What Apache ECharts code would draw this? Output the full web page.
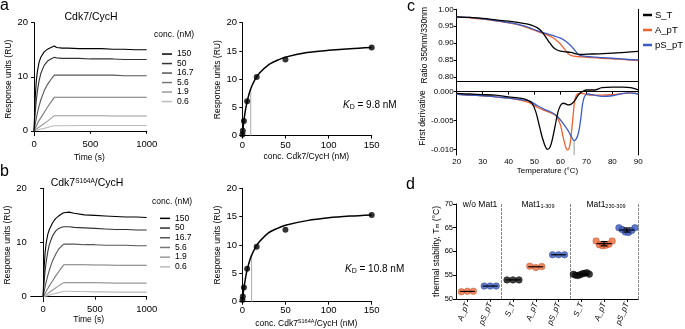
<!DOCTYPE html>
<html>
<head>
<meta charset="utf-8">
<script src="https://cdn.jsdelivr.net/npm/echarts@6/dist/echarts.min.js"></script>
<style>
html, body { margin: 0; padding: 0; background: #fff; }
#main { width: 685px; height: 329px; }
</style>
</head>
<body>
<div id="main"></div>
<script>
// ---- panel a / b : sensorgrams ----
const sgTime = [0, 10, 20, 30, 45, 60, 90, 120, 150, 180, 200, 250, 300, 400, 500, 600, 700, 800, 900, 1000];
const concLabels = ['150', '50', '16.7', '5.6', '1.9', '0.6'];

const a150 = [0, 6.0, 9.2, 11.0, 12.7, 13.6, 14.6, 15.1, 15.4, 15.7, 15.4, 15.3, 15.3, 15.2, 15.2, 15.2, 15.1, 15.1, 15.0, 15.0];
const a50 = [0, 3.2, 5.6, 7.4, 9.3, 10.6, 12.1, 12.9, 13.3, 13.6, 13.5, 13.4, 13.4, 13.4, 13.3, 13.3, 13.3, 13.2, 13.2, 13.2];
const a16 = [0, 1.2, 2.3, 3.3, 4.6, 5.7, 7.4, 8.6, 9.5, 10.3, 10.3, 10.3, 10.3, 10.3, 10.3, 10.3, 10.3, 10.2, 10.2, 10.2];
const a5 = [0, 0.45, 0.9, 1.3, 1.9, 2.4, 3.4, 4.4, 5.3, 6.2, 6.2, 6.2, 6.2, 6.2, 6.2, 6.2, 6.2, 6.2, 6.2, 6.2];
const a1 = [0, 0.15, 0.3, 0.45, 0.7, 0.9, 1.35, 1.8, 2.3, 2.8, 2.8, 2.8, 2.8, 2.8, 2.8, 2.8, 2.75, 2.75, 2.75, 2.75];
const a0 = [0, 0.05, 0.1, 0.15, 0.25, 0.3, 0.45, 0.6, 0.8, 0.95, 0.95, 0.95, 0.95, 1.0, 1.0, 1.0, 1.0, 1.0, 1.0, 1.0];

const b150 = [0, 5.5, 8.3, 10.0, 11.5, 12.4, 13.6, 14.4, 14.9, 15.3, 15.5, 15.6, 15.4, 15.1, 15.0, 14.9, 14.8, 14.7, 14.7, 14.6];
const b50 = [0, 2.8, 4.9, 6.5, 8.3, 9.6, 11.2, 12.1, 12.6, 12.8, 12.9, 12.9, 12.8, 12.7, 12.6, 12.5, 12.4, 12.4, 12.3, 12.3];
const b16 = [0, 1.0, 1.9, 2.8, 3.9, 4.9, 6.6, 7.8, 8.8, 9.4, 9.7, 9.7, 9.7, 9.6, 9.6, 9.5, 9.5, 9.5, 9.4, 9.4];
const b5 = [0, 0.35, 0.7, 1.0, 1.5, 2.0, 2.9, 3.8, 4.6, 5.4, 5.9, 5.9, 5.9, 5.9, 5.85, 5.85, 5.8, 5.8, 5.8, 5.8];
const b1 = [0, 0.1, 0.25, 0.4, 0.6, 0.8, 1.2, 1.6, 2.0, 2.4, 2.6, 2.6, 2.6, 2.6, 2.6, 2.55, 2.5, 2.5, 2.5, 2.5];
const b0 = [0, 0.05, 0.1, 0.15, 0.2, 0.3, 0.45, 0.6, 0.75, 0.9, 1.0, 1.0, 0.95, 0.95, 0.9, 0.9, 0.85, 0.85, 0.85, 0.85];

// ---- binding isotherms ----
const bindConc = [0.2, 0.6, 1.9, 5.6, 16.7, 50, 150];
const bindRespA = [0.2, 0.85, 2.6, 6.1, 10.4, 13.5, 15.6];
const bindRespB = [0.3, 0.9, 2.5, 5.8, 9.7, 12.7, 15.3];
const fitConc = [0, 1, 2, 3, 5, 7.5, 10, 15, 20, 30, 40, 50, 75, 100, 125, 150];
const fitA = [0, 1.5, 2.8, 3.9, 5.6, 7.2, 8.4, 10.0, 11.1, 12.5, 13.3, 13.9, 14.7, 15.1, 15.4, 15.6];
const fitB = [0, 1.4, 2.6, 3.5, 5.2, 6.7, 7.9, 9.5, 10.6, 12.1, 12.9, 13.5, 14.3, 14.8, 15.1, 15.3];
const kdA = [9.8, 8.3];
const kdB = [10.8, 8.2];

// ---- panel c : nanoDSF ----
const ratioST = [[20,0.978],[25,0.976],[30,0.973],[35,0.969],[40,0.965],[44,0.961],[47,0.957],[49,0.953],[51,0.946],[52.5,0.937],[54,0.922],[55.5,0.905],[57,0.890],[58.5,0.881],[60,0.877],[62,0.875],[64,0.873],[66,0.869],[68,0.867],[70,0.868],[75,0.869],[80,0.871],[85,0.873],[90,0.876]];
const ratioApT = [[20,0.978],[25,0.975],[30,0.971],[35,0.966],[40,0.960],[44,0.954],[48,0.944],[51,0.935],[54,0.927],[57,0.917],[59,0.905],[60.5,0.893],[62,0.878],[63.5,0.866],[65,0.862],[68,0.860],[72,0.858],[76,0.856],[80,0.854],[85,0.852],[90,0.849]];
const ratioPSpT = [[20,0.978],[25,0.976],[30,0.972],[35,0.967],[40,0.961],[44,0.955],[48,0.946],[51,0.937],[54,0.930],[57,0.923],[60,0.915],[62,0.906],[64,0.893],[65.5,0.880],[67,0.866],[69,0.862],[72,0.860],[76,0.858],[80,0.856],[85,0.853],[90,0.851]];
const derivST = [[20,-0.0003],[25,-0.0004],[30,-0.0005],[35,-0.0006],[40,-0.0009],[44,-0.0011],[47,-0.0014],[49,-0.0020],[50.5,-0.0035],[52,-0.0062],[53.5,-0.0087],[55,-0.0100],[56,-0.0096],[57,-0.0080],[58,-0.0058],[59,-0.0036],[60,-0.0024],[61,-0.0020],[62,-0.0021],[63,-0.0023],[64,-0.0022],[65,-0.0018],[66,-0.0012],[67,-0.0005],[68,-0.0001],[70,0.0003],[73,0.0003],[76,0.0007],[80,0.0008],[84,0.0008],[87,0.0007],[90,0.0003]];
const derivApT = [[20,-0.0004],[25,-0.0006],[30,-0.0007],[35,-0.0009],[40,-0.0011],[45,-0.0015],[48,-0.0019],[51,-0.0027],[54,-0.0033],[57,-0.0038],[58.5,-0.0043],[60,-0.0058],[61,-0.0078],[62,-0.0096],[62.8,-0.0101],[63.6,-0.0093],[64.3,-0.0068],[65,-0.0035],[65.6,-0.0013],[66.5,-0.0004],[68,-0.0003],[72,-0.0006],[76,-0.0006],[80,-0.0005],[85,-0.0003],[88,-0.0002],[90,-0.0004]];
const derivPSpT = [[20,-0.0004],[25,-0.0006],[30,-0.0007],[35,-0.0009],[40,-0.0011],[45,-0.0014],[48,-0.0016],[51,-0.0024],[54,-0.0031],[57,-0.0037],[59,-0.0044],[61,-0.0055],[63,-0.0068],[64.3,-0.0079],[65.3,-0.0085],[66.2,-0.0081],[67,-0.0070],[67.8,-0.0048],[68.5,-0.0022],[69.3,-0.0008],[70.5,-0.0004],[73,-0.0006],[76,-0.0008],[80,-0.0007],[83,-0.0004],[86,-0.0002],[90,-0.0004]];
const tmMark = [65.3, -0.0085];

// ---- panel d : Tm ----
const dCats = ['A_pT', 'pS_pT', 'S_T', 'A_pT', 'pS_pT', 'S_T', 'A_pT', 'pS_pT'];
const dTm = [
    [51.5, 51.6, 51.6],
    [52.7, 52.7, 52.7],
    [54.0, 54.0, 54.0],
    [56.9, 56.6, 56.8],
    [59.3, 59.3, 59.3],
    [55.2, 55.0, 54.9, 55.1, 55.3, 55.4, 55.5, 55.2],
    [62.2, 61.4, 61.2, 61.3, 61.5, 62.2],
    [65.0, 64.6, 64.1, 64.0, 64.4, 65.0]
];

const FONT = 'Liberation Sans';
const grays = ['#000000', '#333333', '#555555', '#777777', '#999999', '#bbbbbb'];
const cCol = { S_T: '#000000', A_pT: '#f0622d', pS_pT: '#3a5cc6' };
const dFill = { S_T: '#111111', A_pT: '#ef6b3c', pS_pT: '#3b5bbf' };
const dEdge = { S_T: '#000000', A_pT: '#b8481f', pS_pT: '#263f8c' };

const axLine = { show: true, lineStyle: { color: '#000', width: 1 } };
const axTick = (vals) => ({ show: true, length: 3, customValues: vals, lineStyle: { color: '#000' } });
const plain = (v) => String(v);

function sgSeries(curves, xi, yi) {
    return curves.map((vals, k) => ({
        name: concLabels[k], type: 'line', xAxisIndex: xi, yAxisIndex: yi,
        data: sgTime.map((t, i) => [t, vals[i]]),
        symbol: 'none', lineStyle: { width: 1.1, color: grays[k] }, itemStyle: { color: grays[k] },
        z: 10 - k, animation: false
    }));
}

function fitSeries(fit, pts, kd, xi, yi) {
    return [
        { type: 'line', xAxisIndex: xi, yAxisIndex: yi, data: [[kd[0], 0], [kd[0], kd[1]]], symbol: 'none',
          lineStyle: { color: '#aaa', width: 1 }, z: 2 },
        { type: 'line', xAxisIndex: xi, yAxisIndex: yi, data: fitConc.map((c, i) => [c, fit[i]]), symbol: 'none',
          smooth: 0.3, lineStyle: { color: '#000', width: 1.5 }, z: 3 },
        { type: 'scatter', xAxisIndex: xi, yAxisIndex: yi, data: bindConc.map((c, i) => [c, pts[i]]),
          symbolSize: 6, itemStyle: { color: '#000' }, clip: false, z: 4 }
    ];
}

function cSeries(name, data, xi, yi) {
    return { name: name, type: 'line', xAxisIndex: xi, yAxisIndex: yi, data: data, symbol: 'none', smooth: 0.35,
             lineStyle: { width: 1.3, color: cCol[name] }, itemStyle: { color: cCol[name] },
             z: name === 'S_T' ? 6 : 5 };
}

// panel d scatter, one series per colour
function dSeries(kind) {
    const pts = [];
    dTm.forEach((vals, ci) => {
        if (dCats[ci] !== kind) return;
        const n = vals.length;
        const step = n > 1 ? Math.min(6, 16 / (n - 1)) : 0;
        vals.forEach((v, i) => pts.push({ value: [ci, v], symbolOffset: [(i - (n - 1) / 2) * step, 0] }));
    });
    return { name: 'd_' + kind, type: 'scatter', xAxisIndex: 6, yAxisIndex: 6, data: pts, symbolSize: 6.5,
             itemStyle: { color: dFill[kind], borderColor: dEdge[kind], borderWidth: 0.6 }, z: 5 };
}

const dStats = dTm.map((vals, ci) => {
    const m = vals.reduce((s, v) => s + v, 0) / vals.length;
    const sd = Math.sqrt(vals.reduce((s, v) => s + (v - m) * (v - m), 0) / Math.max(1, vals.length - 1));
    return [ci, m, sd];
});

const yName = (txt, gap) => ({ name: txt, nameLocation: 'middle', nameGap: gap,
    nameTextStyle: { fontSize: 8.5, color: '#000', fontFamily: FONT } });

const chart = echarts.init(document.getElementById('main'), null, { renderer: 'canvas' });

const option = {
    animation: false,
    backgroundColor: '#fff',
    textStyle: { fontFamily: FONT, color: '#000' },
    grid: [
        { left: 32, top: 22.7, width: 114.7, height: 113 },
        { left: 241, top: 22.7, width: 130.7, height: 114 },
        { left: 30.7, top: 188.3, width: 116, height: 113.4 },
        { left: 241, top: 188.3, width: 130.7, height: 113.4 },
        { left: 456.7, top: 9.3, width: 181.6, height: 71.7 },
        { left: 456.7, top: 81, width: 181.6, height: 74 },
        { left: 456, top: 204, width: 182.3, height: 98.3 }
    ],
    xAxis: [
        { gridIndex: 0, type: 'value', min: -18, max: 1000, axisLine: axLine, axisTick: axTick([0, 500, 1000]),
          axisLabel: { customValues: [0, 500, 1000], fontSize: 9.5, color: '#000', margin: 4, formatter: plain }, splitLine: { show: false },
          name: 'Time (s)', nameLocation: 'middle', nameGap: 17, nameTextStyle: { fontSize: 8.5, color: '#000' } },
        { gridIndex: 1, type: 'value', min: -1.5, max: 150, axisLine: axLine, axisTick: axTick([0, 50, 100, 150]),
          axisLabel: { customValues: [0, 50, 100, 150], fontSize: 9.5, color: '#000', margin: 4 }, splitLine: { show: false },
          name: 'conc. Cdk7/CycH (nM)', nameLocation: 'middle', nameGap: 15, nameTextStyle: { fontSize: 8.5, color: '#000' } },
        { gridIndex: 2, type: 'value', min: -120, max: 1000, axisLine: axLine, axisTick: axTick([0, 500, 1000]),
          axisLabel: { customValues: [0, 500, 1000], fontSize: 9.5, color: '#000', margin: 3, formatter: plain }, splitLine: { show: false },
          name: 'Time (s)', nameLocation: 'middle', nameGap: 13, nameTextStyle: { fontSize: 8.5, color: '#000' } },
        { gridIndex: 3, type: 'value', min: -1.5, max: 150, axisLine: axLine, axisTick: axTick([0, 50, 100, 150]),
          axisLabel: { customValues: [0, 50, 100, 150], fontSize: 9.5, color: '#000', margin: 4 }, splitLine: { show: false },
          name: 'conc. Cdk7{sup|S164A}/CycH (nM)', nameLocation: 'middle', nameGap: 17,
          nameTextStyle: { fontSize: 8.5, color: '#000', rich: { sup: { fontSize: 5.5, verticalAlign: 'top', color: '#000' } } } },
        { gridIndex: 4, type: 'value', min: 20, max: 90, axisLine: axLine, axisTick: { show: false },
          axisLabel: { show: false }, splitLine: { show: false } },
        { gridIndex: 5, type: 'value', min: 20, max: 90, interval: 10, axisLine: axLine,
          axisTick: { show: true, length: 3, lineStyle: { color: '#000' } },
          axisLabel: { fontSize: 8, color: '#000', margin: 3 }, splitLine: { show: false },
          name: 'Temperature (°C)', nameLocation: 'middle', nameGap: 12, nameTextStyle: { fontSize: 8, color: '#000' } },
        { gridIndex: 6, type: 'category', data: dCats.map((c, i) => 'k' + i), boundaryGap: true, axisLine: axLine,
          axisTick: { show: true, alignWithLabel: true, length: 3, lineStyle: { color: '#000' } },
          axisLabel: { interval: 0, rotate: 68, fontSize: 8, fontStyle: 'italic', color: '#000', margin: 4, formatter: (v, i) => dCats[i] },
          splitLine: { show: true, interval: (i) => i === 2 || i === 5, lineStyle: { color: '#888', width: 1, type: [3, 1] } } }
    ],
    yAxis: [
        Object.assign({ gridIndex: 0, type: 'value', min: -0.9, max: 20, axisLine: axLine, axisTick: axTick([0, 10, 20]),
          axisLabel: { customValues: [0, 10, 20], fontSize: 9.5, color: '#000', margin: 4 }, splitLine: { show: false } },
          yName('Response units (RU)', 13)),
        Object.assign({ gridIndex: 1, type: 'value', min: -0.2, max: 20, axisLine: axLine, axisTick: axTick([0, 5, 10, 15, 20]),
          axisLabel: { customValues: [0, 5, 10, 15, 20], fontSize: 9.5, color: '#000', margin: 4 }, splitLine: { show: false } },
          yName('Response units (RU)', 14)),
        Object.assign({ gridIndex: 2, type: 'value', min: -0.92, max: 20, axisLine: axLine, axisTick: axTick([0, 10, 20]),
          axisLabel: { customValues: [0, 10, 20], fontSize: 9.5, color: '#000', margin: 4 }, splitLine: { show: false } },
          yName('Response units (RU)', 13)),
        Object.assign({ gridIndex: 3, type: 'value', min: 0, max: 20, axisLine: axLine, axisTick: axTick([0, 5, 10, 15, 20]),
          axisLabel: { customValues: [0, 5, 10, 15, 20], fontSize: 9.5, color: '#000', margin: 4 }, splitLine: { show: false } },
          yName('Response units (RU)', 14)),
        Object.assign({ gridIndex: 4, type: 'value', min: 0.789, max: 1.0, axisLine: axLine, axisTick: axTick([0.8, 0.85, 0.9, 0.95, 1.0]),
          axisLabel: { customValues: [0.8, 0.85, 0.9, 0.95, 1.0], fontSize: 8, color: '#000', margin: 3, formatter: (v) => v.toFixed(2) },
          splitLine: { show: false } }, yName('Ratio 350nm/330nm', 28)),
        Object.assign({ gridIndex: 5, type: 'value', min: -0.01099, max: 0.00186, axisLine: axLine, axisTick: axTick([-0.01, -0.005, 0]),
          axisLabel: { customValues: [-0.01, -0.005, 0], fontSize: 8, color: '#000', margin: 3, formatter: (v) => v.toFixed(3) },
          splitLine: { show: false } }, yName('First derivative', 30)),
        Object.assign({ gridIndex: 6, type: 'value', min: 50, max: 70, interval: 5, axisLine: axLine,
          axisTick: { show: true, length: 3, lineStyle: { color: '#000' } },
          axisLabel: { fontSize: 7.5, color: '#000', margin: 3 }, splitLine: { show: false } },
          { name: 'thermal stability, T{sub|m} (°C)', nameLocation: 'middle', nameGap: 14,
            nameTextStyle: { fontSize: 8.5, color: '#000', rich: { sub: { fontSize: 6, verticalAlign: 'bottom', color: '#000' } } } }),
        { gridIndex: 4, type: 'value', position: 'right', axisLine: axLine, axisTick: { show: false }, axisLabel: { show: false }, splitLine: { show: false } },
        { gridIndex: 5, type: 'value', position: 'right', axisLine: axLine, axisTick: { show: false }, axisLabel: { show: false }, splitLine: { show: false } }
    ],
    legend: [
        { data: concLabels, orient: 'vertical', left: 157, top: 44.3, itemWidth: 10, itemHeight: 1.5, itemGap: 0, icon: 'rect',
          selectedMode: false, textStyle: { fontSize: 8.5, lineHeight: 9.5, color: '#000' } },
        { data: concLabels, orient: 'vertical', left: 155, top: 208.5, itemWidth: 10, itemHeight: 1.5, itemGap: 0, icon: 'rect',
          selectedMode: false, textStyle: { fontSize: 8.5, lineHeight: 9.7, color: '#000' } },
        { data: ['S_T', 'A_pT', 'pS_pT'], orient: 'vertical', left: 643, top: 9.5, itemWidth: 9, itemHeight: 2.5, itemGap: 4,
          icon: 'rect', selectedMode: false, padding: 0, width: 42,
          textStyle: { fontSize: 9.5, lineHeight: 11, color: '#000', width: 32, overflow: 'none', padding: [0, 0, 0, -2] } }
    ],
    series: [].concat(
        sgSeries([a150, a50, a16, a5, a1, a0], 0, 0),
        fitSeries(fitA, bindRespA, kdA, 1, 1),
        sgSeries([b150, b50, b16, b5, b1, b0], 2, 2),
        fitSeries(fitB, bindRespB, kdB, 3, 3),
        [
            cSeries('S_T', ratioST, 4, 4),
            cSeries('A_pT', ratioApT, 4, 4),
            cSeries('pS_pT', ratioPSpT, 4, 4),
            Object.assign(cSeries('S_T', derivST, 5, 5), {
                markLine: { silent: true, symbol: ['none', 'none'], label: { show: false },
                            lineStyle: { color: '#000', type: 'dotted', width: 1 }, data: [{ yAxis: 0 }] } }),
            cSeries('A_pT', derivApT, 5, 5),
            cSeries('pS_pT', derivPSpT, 5, 5),
            { type: 'line', xAxisIndex: 5, yAxisIndex: 5, data: [[tmMark[0], -0.011], [tmMark[0], tmMark[1]]], symbol: 'none',
              lineStyle: { color: '#bbb', width: 1.5 }, z: 1 },
            dSeries('A_pT'), dSeries('pS_pT'), dSeries('S_T'),
            { type: 'custom', xAxisIndex: 6, yAxisIndex: 6, data: dStats, z: 7,
              renderItem: function (params, api) {
                  const c = api.coord([api.value(0), api.value(1)]);
                  const hi = api.coord([api.value(0), api.value(1) + api.value(2)]);
                  const lo = api.coord([api.value(0), api.value(1) - api.value(2)]);
                  const st = { stroke: '#000', lineWidth: 1.2 };
                  const kids = [{ type: 'line', shape: { x1: c[0] - 7.5, y1: c[1], x2: c[0] + 7.5, y2: c[1] }, style: st }];
                  if (c[1] - hi[1] > 1.5) {
                      kids.push({ type: 'line', shape: { x1: c[0], y1: hi[1], x2: c[0], y2: lo[1] }, style: st });
                      kids.push({ type: 'line', shape: { x1: c[0] - 3.5, y1: hi[1], x2: c[0] + 3.5, y2: hi[1] }, style: st });
                      kids.push({ type: 'line', shape: { x1: c[0] - 3.5, y1: lo[1], x2: c[0] + 3.5, y2: lo[1] }, style: st });
                  }
                  return { type: 'group', children: kids };
              } }
        ]
    ),
    graphic: [
        { type: 'text', x: 0, y: -2, style: { text: 'a', fontSize: 16, fontFamily: FONT, fill: '#000' } },
        { type: 'text', x: 0, y: 164, style: { text: 'b', fontSize: 16, fontFamily: FONT, fill: '#000' } },
        { type: 'text', x: 407, y: -1, style: { text: 'c', fontSize: 16, fontFamily: FONT, fill: '#000' } },
        { type: 'text', x: 406, y: 177, style: { text: 'd', fontSize: 16, fontFamily: FONT, fill: '#000' } },
        { type: 'text', x: 91, y: 17.5, style: { text: 'Cdk7/CycH', fontSize: 10.5, fontFamily: FONT, fill: '#000', align: 'center', verticalAlign: 'middle' } },
        { type: 'text', x: 87, y: 183, style: { text: 'Cdk7{sup|S164A}/CycH', fontSize: 10.5, fontFamily: FONT, fill: '#000', align: 'center', verticalAlign: 'middle',
            rich: { sup: { fontSize: 6.5, verticalAlign: 'top', fill: '#000' } } } },
        { type: 'text', x: 154, y: 34.5, style: { text: 'conc. (nM)', fontSize: 8.5, fontFamily: FONT, fill: '#000', verticalAlign: 'middle' } },
        { type: 'text', x: 152, y: 201.5, style: { text: 'conc. (nM)', fontSize: 8.5, fontFamily: FONT, fill: '#000', verticalAlign: 'middle' } },
        { type: 'text', x: 343, y: 105.5, style: { text: '{k|K}{s|D} = 9.8 nM', fontSize: 10, fontFamily: FONT, fill: '#000', verticalAlign: 'middle',
            rich: { k: { fontSize: 10, fontStyle: 'italic', fill: '#000' }, s: { fontSize: 7, verticalAlign: 'bottom', fill: '#000' } } } },
        { type: 'text', x: 345, y: 269.5, style: { text: '{k|K}{s|D} = 10.8 nM', fontSize: 10, fontFamily: FONT, fill: '#000', verticalAlign: 'middle',
            rich: { k: { fontSize: 10, fontStyle: 'italic', fill: '#000' }, s: { fontSize: 7, verticalAlign: 'bottom', fill: '#000' } } } },
        { type: 'text', x: 480, y: 205, style: { text: 'w/o Mat1', fontSize: 8.5, fontFamily: FONT, fill: '#000', align: 'center', verticalAlign: 'middle' } },
        { type: 'text', x: 538, y: 205, style: { text: 'Mat1{s|1-309}', fontSize: 8.5, fontFamily: FONT, fill: '#000', align: 'center', verticalAlign: 'middle',
            rich: { s: { fontSize: 5.5, verticalAlign: 'bottom', fill: '#000' } } } },
        { type: 'text', x: 606, y: 205, style: { text: 'Mat1{s|230-309}', fontSize: 8.5, fontFamily: FONT, fill: '#000', align: 'center', verticalAlign: 'middle',
            rich: { s: { fontSize: 5.5, verticalAlign: 'bottom', fill: '#000' } } } }
    ]
};

chart.setOption(option);
</script>
</body>
</html>
